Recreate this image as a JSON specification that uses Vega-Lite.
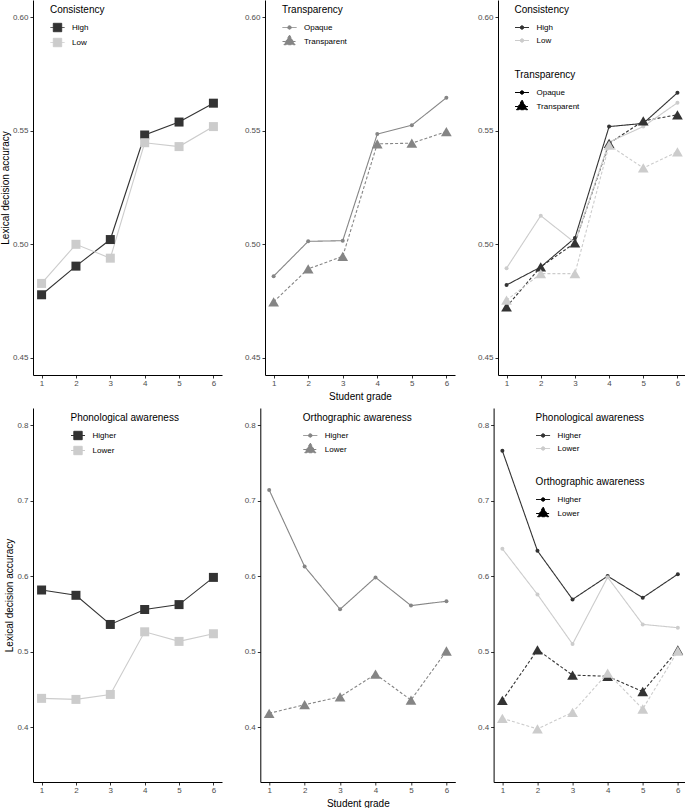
{
 "$schema": "https://vega.github.io/schema/vega-lite/v6.json",
 "padding": 0,
 "background": "white",
 "config": {
  "font": "Liberation Sans",
  "view": {"stroke": null},
  "axis": {"grid": false, "domainColor": "#000000", "domainWidth": 1, "tickColor": "#333333", "tickWidth": 1, "tickSize": 3, "labelColor": "#4d4d4d", "labelFontSize": 8, "labelFont": "Liberation Sans", "labelPadding": 2, "titleFont": "Liberation Sans", "titleFontSize": 10, "titleFontWeight": "normal", "titleColor": "#000000"},
  "axisX": {"labelPadding": 1, "titlePadding": 4},
  "axisY": {"titlePadding": 2},
  "legend": {"orient": "none", "padding": 0, "titleFont": "Liberation Sans", "titleFontSize": 10, "titleFontWeight": "normal", "titleColor": "#000000", "labelFont": "Liberation Sans", "labelFontSize": 8, "labelColor": "#000000", "symbolSize": 196, "labelOffset": 7, "rowPadding": 1, "titlePadding": 5, "symbolStrokeWidth": 1}
 },
 "datasets": {
  "cons": [
   {"grade": 1, "Consistency": "High", "acc": 0.4778}, {"grade": 2, "Consistency": "High", "acc": 0.4904}, {"grade": 3, "Consistency": "High", "acc": 0.5021}, {"grade": 4, "Consistency": "High", "acc": 0.5481}, {"grade": 5, "Consistency": "High", "acc": 0.5538}, {"grade": 6, "Consistency": "High", "acc": 0.5621},
   {"grade": 1, "Consistency": "Low", "acc": 0.4828}, {"grade": 2, "Consistency": "Low", "acc": 0.5000}, {"grade": 3, "Consistency": "Low", "acc": 0.4939}, {"grade": 4, "Consistency": "Low", "acc": 0.5447}, {"grade": 5, "Consistency": "Low", "acc": 0.5430}, {"grade": 6, "Consistency": "Low", "acc": 0.5518}
  ],
  "trans": [
   {"grade": 1, "Transparency": "Opaque", "acc": 0.4860}, {"grade": 2, "Transparency": "Opaque", "acc": 0.5013}, {"grade": 3, "Transparency": "Opaque", "acc": 0.5016}, {"grade": 4, "Transparency": "Opaque", "acc": 0.5485}, {"grade": 5, "Transparency": "Opaque", "acc": 0.5524}, {"grade": 6, "Transparency": "Opaque", "acc": 0.5645},
   {"grade": 1, "Transparency": "Transparent", "acc": 0.4747}, {"grade": 2, "Transparency": "Transparent", "acc": 0.4892}, {"grade": 3, "Transparency": "Transparent", "acc": 0.4947}, {"grade": 4, "Transparency": "Transparent", "acc": 0.5442}, {"grade": 5, "Transparency": "Transparent", "acc": 0.5445}, {"grade": 6, "Transparency": "Transparent", "acc": 0.5496}
  ],
  "ct": [
   {"grade": 1, "Consistency": "High", "Transparency": "Opaque", "acc": 0.4821}, {"grade": 2, "Consistency": "High", "Transparency": "Opaque", "acc": 0.4900}, {"grade": 3, "Consistency": "High", "Transparency": "Opaque", "acc": 0.5028}, {"grade": 4, "Consistency": "High", "Transparency": "Opaque", "acc": 0.5518}, {"grade": 5, "Consistency": "High", "Transparency": "Opaque", "acc": 0.5532}, {"grade": 6, "Consistency": "High", "Transparency": "Opaque", "acc": 0.5667},
   {"grade": 1, "Consistency": "High", "Transparency": "Transparent", "acc": 0.4725}, {"grade": 2, "Consistency": "High", "Transparency": "Transparent", "acc": 0.4901}, {"grade": 3, "Consistency": "High", "Transparency": "Transparent", "acc": 0.5006}, {"grade": 4, "Consistency": "High", "Transparency": "Transparent", "acc": 0.5444}, {"grade": 5, "Consistency": "High", "Transparency": "Transparent", "acc": 0.5543}, {"grade": 6, "Consistency": "High", "Transparency": "Transparent", "acc": 0.5570},
   {"grade": 1, "Consistency": "Low", "Transparency": "Opaque", "acc": 0.4895}, {"grade": 2, "Consistency": "Low", "Transparency": "Opaque", "acc": 0.5126}, {"grade": 3, "Consistency": "Low", "Transparency": "Opaque", "acc": 0.5007}, {"grade": 4, "Consistency": "Low", "Transparency": "Opaque", "acc": 0.5450}, {"grade": 5, "Consistency": "Low", "Transparency": "Opaque", "acc": 0.5518}, {"grade": 6, "Consistency": "Low", "Transparency": "Opaque", "acc": 0.5623},
   {"grade": 1, "Consistency": "Low", "Transparency": "Transparent", "acc": 0.4754}, {"grade": 2, "Consistency": "Low", "Transparency": "Transparent", "acc": 0.4871}, {"grade": 3, "Consistency": "Low", "Transparency": "Transparent", "acc": 0.4871}, {"grade": 4, "Consistency": "Low", "Transparency": "Transparent", "acc": 0.5436}, {"grade": 5, "Consistency": "Low", "Transparency": "Transparent", "acc": 0.5336}, {"grade": 6, "Consistency": "Low", "Transparency": "Transparent", "acc": 0.5407}
  ],
  "phon": [
   {"grade": 1, "Phon": "Higher", "acc": 0.5816}, {"grade": 2, "Phon": "Higher", "acc": 0.5746}, {"grade": 3, "Phon": "Higher", "acc": 0.5360}, {"grade": 4, "Phon": "Higher", "acc": 0.5558}, {"grade": 5, "Phon": "Higher", "acc": 0.5623}, {"grade": 6, "Phon": "Higher", "acc": 0.5983},
   {"grade": 1, "Phon": "Lower", "acc": 0.4382}, {"grade": 2, "Phon": "Lower", "acc": 0.4368}, {"grade": 3, "Phon": "Lower", "acc": 0.4434}, {"grade": 4, "Phon": "Lower", "acc": 0.5263}, {"grade": 5, "Phon": "Lower", "acc": 0.5136}, {"grade": 6, "Phon": "Lower", "acc": 0.5237}
  ],
  "orth": [
   {"grade": 1, "Orth": "Higher", "acc": 0.7141}, {"grade": 2, "Orth": "Higher", "acc": 0.6127}, {"grade": 3, "Orth": "Higher", "acc": 0.5561}, {"grade": 4, "Orth": "Higher", "acc": 0.5983}, {"grade": 5, "Orth": "Higher", "acc": 0.5610}, {"grade": 6, "Orth": "Higher", "acc": 0.5667},
   {"grade": 1, "Orth": "Lower", "acc": 0.4184}, {"grade": 2, "Orth": "Lower", "acc": 0.4298}, {"grade": 3, "Orth": "Lower", "acc": 0.4403}, {"grade": 4, "Orth": "Lower", "acc": 0.4702}, {"grade": 5, "Orth": "Lower", "acc": 0.4360}, {"grade": 6, "Orth": "Lower", "acc": 0.5009}
  ],
  "po": [
   {"grade": 1, "Phon": "Higher", "Orth": "Higher", "acc": 0.7658}, {"grade": 2, "Phon": "Higher", "Orth": "Higher", "acc": 0.6335}, {"grade": 3, "Phon": "Higher", "Orth": "Higher", "acc": 0.5692}, {"grade": 4, "Phon": "Higher", "Orth": "Higher", "acc": 0.6000}, {"grade": 5, "Phon": "Higher", "Orth": "Higher", "acc": 0.5714}, {"grade": 6, "Phon": "Higher", "Orth": "Higher", "acc": 0.6026},
   {"grade": 1, "Phon": "Higher", "Orth": "Lower", "acc": 0.4354}, {"grade": 2, "Phon": "Higher", "Orth": "Lower", "acc": 0.5025}, {"grade": 3, "Phon": "Higher", "Orth": "Lower", "acc": 0.4690}, {"grade": 4, "Phon": "Higher", "Orth": "Lower", "acc": 0.4674}, {"grade": 5, "Phon": "Higher", "Orth": "Lower", "acc": 0.4473}, {"grade": 6, "Phon": "Higher", "Orth": "Lower", "acc": 0.5022},
   {"grade": 1, "Phon": "Lower", "Orth": "Higher", "acc": 0.6361}, {"grade": 2, "Phon": "Lower", "Orth": "Higher", "acc": 0.5758}, {"grade": 3, "Phon": "Lower", "Orth": "Higher", "acc": 0.5101}, {"grade": 4, "Phon": "Lower", "Orth": "Higher", "acc": 0.5985}, {"grade": 5, "Phon": "Lower", "Orth": "Higher", "acc": 0.5361}, {"grade": 6, "Phon": "Lower", "Orth": "Higher", "acc": 0.5317},
   {"grade": 1, "Phon": "Lower", "Orth": "Lower", "acc": 0.4118}, {"grade": 2, "Phon": "Lower", "Orth": "Lower", "acc": 0.3977}, {"grade": 3, "Phon": "Lower", "Orth": "Lower", "acc": 0.4197}, {"grade": 4, "Phon": "Lower", "Orth": "Lower", "acc": 0.4717}, {"grade": 5, "Phon": "Lower", "Orth": "Lower", "acc": 0.4241}, {"grade": 6, "Phon": "Lower", "Orth": "Lower", "acc": 0.5009}
  ]
 },
 "spacing": 7,
 "resolve": {"scale": {"color": "independent", "strokeDash": "independent"}, "legend": {"color": "independent", "strokeDash": "independent"}},
 "vconcat": [
  {
   "spacing": 22,
   "resolve": {"scale": {"color": "independent", "strokeDash": "independent"}, "legend": {"color": "independent", "strokeDash": "independent"}},
   "hconcat": [
    {
     "width": 189, "height": 375,
     "data": {"name": "cons"},
     "encoding": {
      "x": {"field": "grade", "type": "quantitative", "scale": {"domain": [0.75, 6.25], "nice": false, "zero": false}, "axis": {"values": [1, 2, 3, 4, 5, 6], "format": "d", "title": null, "labelAngle": 0}},
      "y": {"field": "acc", "type": "quantitative", "scale": {"domain": [0.4425, 0.6075], "nice": false, "zero": false}, "axis": {"values": [0.45, 0.5, 0.55, 0.6], "format": ".2f", "title": "Lexical decision accuracy"}},
      "color": {"field": "Consistency", "type": "nominal", "scale": {"domain": ["High", "Low"], "range": ["#333333", "#cccccc"]},
       "legend": {"title": "Consistency", "legendX": 17, "legendY": 5, "encode": {"symbols": {"update": {
        "shape": {"value": "M-1,0H1M-0.6,-0.6H0.6V0.6H-0.6Z"},
        "fill": {"signal": "datum.value === 'High' ? '#333333' : '#cccccc'"},
        "stroke": {"signal": "datum.value === 'High' ? '#333333' : '#cccccc'"},
        "strokeWidth": {"value": 1}, "opacity": {"value": 1}, "fillOpacity": {"value": 1}, "strokeDash": {"value": [1, 0]}}}}}}
     },
     "layer": [
      {"mark": {"type": "line", "strokeWidth": 1.1}},
      {"mark": {"type": "point", "shape": "square", "filled": true, "size": 81, "opacity": 1}}
     ]
    },
    {
     "width": 190, "height": 375,
     "data": {"name": "trans"},
     "resolve": {"scale": {"strokeDash": "independent"}},
     "encoding": {
      "x": {"field": "grade", "type": "quantitative", "scale": {"domain": [0.75, 6.25], "nice": false, "zero": false}, "axis": {"values": [1, 2, 3, 4, 5, 6], "format": "d", "title": "Student grade", "labelAngle": 0}},
      "y": {"field": "acc", "type": "quantitative", "scale": {"domain": [0.4425, 0.6075], "nice": false, "zero": false}, "axis": {"values": [0.45, 0.5, 0.55, 0.6], "format": ".2f", "title": null}}
     },
     "layer": [
      {"mark": {"type": "line", "strokeWidth": 1.1},
       "encoding": {
        "color": {"field": "Transparency", "type": "nominal", "scale": {"domain": ["Opaque", "Transparent"], "range": ["#858585", "#858585"]}, "legend": null},
        "strokeDash": {"field": "Transparency", "type": "nominal", "scale": {"domain": ["Opaque", "Transparent"], "range": [[1, 0], [3, 2]]},
        "legend": {"title": "Transparency", "legendX": 17, "legendY": 5, "encode": {"symbols": {"update": {
         "shape": {"signal": "datum.value === 'Opaque' ? 'M-1,0H1M-0.25,0A0.25,0.25,0,1,1,0.25,0A0.25,0.25,0,1,1,-0.25,0Z' : 'M-1,0H1M0,-0.92L0.8,0.46H-0.8Z'"},
         "fill": {"value": "#858585"}, "stroke": {"value": "#858585"},
         "strokeDash": {"signal": "datum.value === 'Opaque' ? [1,0] : [2.5,1.5]"},
         "strokeWidth": {"value": 1}, "opacity": {"value": 1}, "fillOpacity": {"value": 1}}}}}}}},
      {"transform": [{"filter": "datum.Transparency === 'Opaque'"}], "mark": {"type": "point", "shape": "circle", "filled": true, "size": 16, "opacity": 1, "color": "#858585"}},
      {"transform": [{"filter": "datum.Transparency === 'Transparent'"}], "mark": {"type": "point", "shape": "triangle-up", "filled": true, "size": 115, "opacity": 1, "color": "#858585"}}
     ]
    },
    {
     "width": 188, "height": 375,
     "data": {"name": "ct"},
     "resolve": {"scale": {"strokeDash": "independent"}},
     "encoding": {
      "x": {"field": "grade", "type": "quantitative", "scale": {"domain": [0.75, 6.25], "nice": false, "zero": false}, "axis": {"values": [1, 2, 3, 4, 5, 6], "format": "d", "title": null, "labelAngle": 0}},
      "y": {"field": "acc", "type": "quantitative", "scale": {"domain": [0.4425, 0.6075], "nice": false, "zero": false}, "axis": {"values": [0.45, 0.5, 0.55, 0.6], "format": ".2f", "title": null}},
      "color": {"field": "Consistency", "type": "nominal", "scale": {"domain": ["High", "Low"], "range": ["#333333", "#cccccc"]},
       "legend": {"title": "Consistency", "legendX": 16.5, "legendY": 5, "encode": {"symbols": {"update": {
        "shape": {"value": "M-1,0H1M-0.25,0A0.25,0.25,0,1,1,0.25,0A0.25,0.25,0,1,1,-0.25,0Z"},
        "fill": {"signal": "datum.value === 'High' ? '#333333' : '#cccccc'"},
        "stroke": {"signal": "datum.value === 'High' ? '#333333' : '#cccccc'"},
        "strokeWidth": {"value": 1}, "opacity": {"value": 1}, "fillOpacity": {"value": 1}, "strokeDash": {"value": [1, 0]}}}}}}
     },
     "layer": [
      {"mark": {"type": "line", "strokeWidth": 1.1},
       "encoding": {"strokeDash": {"field": "Transparency", "type": "nominal", "scale": {"domain": ["Opaque", "Transparent"], "range": [[1, 0], [3, 2]]},
        "legend": {"title": "Transparency", "legendX": 16.5, "legendY": 70, "encode": {"symbols": {"update": {
         "shape": {"signal": "datum.value === 'Opaque' ? 'M-1,0H1M-0.25,0A0.25,0.25,0,1,1,0.25,0A0.25,0.25,0,1,1,-0.25,0Z' : 'M-1,0H1M0,-0.92L0.8,0.46H-0.8Z'"},
         "fill": {"value": "#000000"}, "stroke": {"value": "#000000"},
         "strokeDash": {"signal": "datum.value === 'Opaque' ? [1,0] : [2.5,1.5]"},
         "strokeWidth": {"value": 1}, "opacity": {"value": 1}, "fillOpacity": {"value": 1}}}}}}}},
      {"transform": [{"filter": "datum.Transparency === 'Opaque'"}], "mark": {"type": "point", "shape": "circle", "filled": true, "size": 16, "opacity": 1}},
      {"transform": [{"filter": "datum.Transparency === 'Transparent'"}], "mark": {"type": "point", "shape": "triangle-up", "filled": true, "size": 115, "opacity": 1}}
     ]
    }
   ]
  },
  {
   "spacing": 21.3,
   "resolve": {"scale": {"color": "independent", "strokeDash": "independent"}, "legend": {"color": "independent", "strokeDash": "independent"}},
   "hconcat": [
    {
     "width": 189, "height": 374,
     "data": {"name": "phon"},
     "encoding": {
      "x": {"field": "grade", "type": "quantitative", "scale": {"domain": [0.75, 6.25], "nice": false, "zero": false}, "axis": {"values": [1, 2, 3, 4, 5, 6], "format": "d", "title": null, "labelAngle": 0}},
      "y": {"field": "acc", "type": "quantitative", "scale": {"domain": [0.3275, 0.8225], "nice": false, "zero": false}, "axis": {"values": [0.4, 0.5, 0.6, 0.7, 0.8], "format": ".1f", "title": "Lexical decision accuracy"}},
      "color": {"field": "Phon", "type": "nominal", "scale": {"domain": ["Higher", "Lower"], "range": ["#333333", "#cccccc"]},
       "legend": {"title": "Phonological awareness", "legendX": 37.5, "legendY": 5, "encode": {"symbols": {"update": {
        "shape": {"value": "M-1,0H1M-0.6,-0.6H0.6V0.6H-0.6Z"},
        "fill": {"signal": "datum.value === 'Higher' ? '#333333' : '#cccccc'"},
        "stroke": {"signal": "datum.value === 'Higher' ? '#333333' : '#cccccc'"},
        "strokeWidth": {"value": 1}, "opacity": {"value": 1}, "fillOpacity": {"value": 1}, "strokeDash": {"value": [1, 0]}}}}}}
     },
     "layer": [
      {"mark": {"type": "line", "strokeWidth": 1.1}},
      {"mark": {"type": "point", "shape": "square", "filled": true, "size": 81, "opacity": 1}}
     ]
    },
    {
     "width": 195, "height": 374,
     "data": {"name": "orth"},
     "resolve": {"scale": {"strokeDash": "independent"}},
     "encoding": {
      "x": {"field": "grade", "type": "quantitative", "scale": {"domain": [0.75, 6.25], "nice": false, "zero": false}, "axis": {"values": [1, 2, 3, 4, 5, 6], "format": "d", "title": "Student grade", "labelAngle": 0}},
      "y": {"field": "acc", "type": "quantitative", "scale": {"domain": [0.3275, 0.8225], "nice": false, "zero": false}, "axis": {"values": [0.4, 0.5, 0.6, 0.7, 0.8], "format": ".1f", "title": null}}
     },
     "layer": [
      {"mark": {"type": "line", "strokeWidth": 1.1},
       "encoding": {
        "color": {"field": "Orth", "type": "nominal", "scale": {"domain": ["Higher", "Lower"], "range": ["#858585", "#858585"]}, "legend": null},
        "strokeDash": {"field": "Orth", "type": "nominal", "scale": {"domain": ["Higher", "Lower"], "range": [[1, 0], [3, 2]]},
        "legend": {"title": "Orthographic awareness", "legendX": 42.5, "legendY": 5, "encode": {"symbols": {"update": {
         "shape": {"signal": "datum.value === 'Higher' ? 'M-1,0H1M-0.25,0A0.25,0.25,0,1,1,0.25,0A0.25,0.25,0,1,1,-0.25,0Z' : 'M-1,0H1M0,-0.92L0.8,0.46H-0.8Z'"},
         "fill": {"value": "#858585"}, "stroke": {"value": "#858585"},
         "strokeDash": {"signal": "datum.value === 'Higher' ? [1,0] : [2.5,1.5]"},
         "strokeWidth": {"value": 1}, "opacity": {"value": 1}, "fillOpacity": {"value": 1}}}}}}}},
      {"transform": [{"filter": "datum.Orth === 'Higher'"}], "mark": {"type": "point", "shape": "circle", "filled": true, "size": 16, "opacity": 1, "color": "#858585"}},
      {"transform": [{"filter": "datum.Orth === 'Lower'"}], "mark": {"type": "point", "shape": "triangle-up", "filled": true, "size": 115, "opacity": 1, "color": "#858585"}}
     ]
    },
    {
     "width": 193, "height": 374,
     "data": {"name": "po"},
     "resolve": {"scale": {"strokeDash": "independent"}},
     "encoding": {
      "x": {"field": "grade", "type": "quantitative", "scale": {"domain": [0.75, 6.25], "nice": false, "zero": false}, "axis": {"values": [1, 2, 3, 4, 5, 6], "format": "d", "title": null, "labelAngle": 0}},
      "y": {"field": "acc", "type": "quantitative", "scale": {"domain": [0.3275, 0.8225], "nice": false, "zero": false}, "axis": {"values": [0.4, 0.5, 0.6, 0.7, 0.8], "format": ".1f", "title": null}},
      "color": {"field": "Phon", "type": "nominal", "scale": {"domain": ["Higher", "Lower"], "range": ["#333333", "#cccccc"]},
       "legend": {"title": "Phonological awareness", "legendX": 42, "legendY": 5, "encode": {"symbols": {"update": {
        "shape": {"value": "M-1,0H1M-0.25,0A0.25,0.25,0,1,1,0.25,0A0.25,0.25,0,1,1,-0.25,0Z"},
        "fill": {"signal": "datum.value === 'Higher' ? '#333333' : '#cccccc'"},
        "stroke": {"signal": "datum.value === 'Higher' ? '#333333' : '#cccccc'"},
        "strokeWidth": {"value": 1}, "opacity": {"value": 1}, "fillOpacity": {"value": 1}, "strokeDash": {"value": [1, 0]}}}}}}
     },
     "layer": [
      {"mark": {"type": "line", "strokeWidth": 1.1},
       "encoding": {"strokeDash": {"field": "Orth", "type": "nominal", "scale": {"domain": ["Higher", "Lower"], "range": [[1, 0], [3, 2]]},
        "legend": {"title": "Orthographic awareness", "legendX": 42, "legendY": 69, "encode": {"symbols": {"update": {
         "shape": {"signal": "datum.value === 'Higher' ? 'M-1,0H1M-0.25,0A0.25,0.25,0,1,1,0.25,0A0.25,0.25,0,1,1,-0.25,0Z' : 'M-1,0H1M0,-0.92L0.8,0.46H-0.8Z'"},
         "fill": {"value": "#000000"}, "stroke": {"value": "#000000"},
         "strokeDash": {"signal": "datum.value === 'Higher' ? [1,0] : [2.5,1.5]"},
         "strokeWidth": {"value": 1}, "opacity": {"value": 1}, "fillOpacity": {"value": 1}}}}}}}},
      {"transform": [{"filter": "datum.Orth === 'Higher'"}], "mark": {"type": "point", "shape": "circle", "filled": true, "size": 16, "opacity": 1}},
      {"transform": [{"filter": "datum.Orth === 'Lower'"}], "mark": {"type": "point", "shape": "triangle-up", "filled": true, "size": 115, "opacity": 1}}
     ]
    }
   ]
  }
 ]
}
